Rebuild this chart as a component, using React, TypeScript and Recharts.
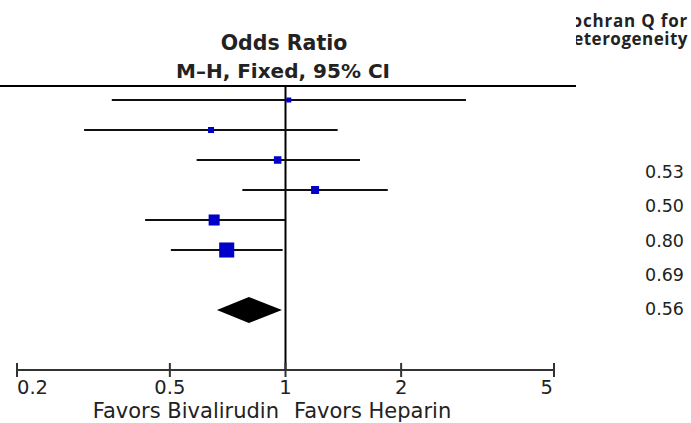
import {
  ComposedChart,
  Scatter,
  ErrorBar,
  Area,
  XAxis,
  YAxis,
  ReferenceLine,
} from "recharts";

// study rows (top to bottom)
const rows = [1, 2, 3, 4, 5, 6];
const oddsRatios = [1.02, 0.64, 0.954, 1.194, 0.652, 0.703];
const lowerCI = [0.353, 0.299, 0.587, 0.772, 0.431, 0.503];
const upperCI = [2.95, 1.367, 1.563, 1.846, 0.997, 0.983];
const weights = [4.7, 6.8, 10.6, 12.1, 23.0, 42.8];

// pooled estimate
const pooledRow = 8;
const pooledOR = 0.803;
const pooledLow = 0.663;
const pooledHigh = 0.979;

const xTicks = [0.2, 0.5, 1, 2, 5];
const heterogeneityP = ["0.53", "0.50", "0.80", "0.69", "0.56"];

const studyData = rows.map((row, i) => ({
  row,
  or: oddsRatios[i],
  ci: [oddsRatios[i] - lowerCI[i], upperCI[i] - oddsRatios[i]],
  weight: weights[i],
}));

const diamondTop = [
  { or: pooledLow, row: pooledRow },
  { or: pooledOR, row: pooledRow - 0.43 },
  { or: pooledHigh, row: pooledRow },
];
const diamondBottom = [
  { or: pooledLow, row: pooledRow },
  { or: pooledOR, row: pooledRow + 0.43 },
  { or: pooledHigh, row: pooledRow },
];

const FONT = "'DejaVu Sans', Verdana, sans-serif";

function Square(props: any) {
  const { cx, cy, payload } = props;
  const s = Math.sqrt(payload.weight) * 2.3;
  return <rect x={cx - s / 2} y={cy - s / 2} width={s} height={s} fill="#0000c8" />;
}

function Tick(props: any) {
  const { x, y, payload, index } = props;
  const last = index === xTicks.length - 1;
  const anchor = index === 0 ? "start" : last ? "end" : "middle";
  const tx = last ? x - 1 : x;
  return (
    <g>
      <line x1={x} x2={x} y1={y - 7} y2={y + 7} stroke="#333" strokeWidth={2} />
      <text x={tx} y={y + 24} textAnchor={anchor} fontSize={19.5} fontFamily={FONT} fill="#222">
        {payload.value}
      </text>
    </g>
  );
}

export default function App() {
  return (
    <div style={{ position: "absolute", left: 0, top: 0, width: 691, height: 423, background: "#fff" }}>
      <ComposedChart
        width={691}
        height={423}
        margin={{ top: 70, right: 137, bottom: 23, left: 17 }}
      >
        <XAxis
          dataKey="or"
          type="number"
          scale="log"
          domain={[0.2, 5]}
          ticks={xTicks}
          allowDataOverflow
          height={30}
          tickLine={false}
          tickSize={0}
          tickMargin={0}
          axisLine={{ stroke: "#333", strokeWidth: 2 }}
          tick={<Tick />}
        />
        <YAxis dataKey="row" type="number" domain={[0, 10]} reversed hide />
        <ReferenceLine
          segment={[
            { x: 1, y: 0.53 },
            { x: 1, y: 10 },
          ]}
          stroke="#000"
          strokeWidth={2}
          ifOverflow="visible"
        />
        <Area
          data={diamondTop}
          dataKey="row"
          type="linear"
          baseValue={pooledRow}
          stroke="none"
          fill="#000"
          fillOpacity={1}
          isAnimationActive={false}
        />
        <Area
          data={diamondBottom}
          dataKey="row"
          type="linear"
          baseValue={pooledRow}
          stroke="none"
          fill="#000"
          fillOpacity={1}
          isAnimationActive={false}
        />
        <Scatter data={studyData} dataKey="row" shape={<Square />} isAnimationActive={false}>
          <ErrorBar
            dataKey="ci"
            direction="x"
            width={0}
            stroke="#111"
            strokeWidth={2.2}
            isAnimationActive={false}
          />
        </Scatter>
      </ComposedChart>
      <svg
        width={691}
        height={423}
        style={{ position: "absolute", left: 0, top: 0, pointerEvents: "none" }}
      >
        <defs>
          <clipPath id="hdrClip">
            <rect x={576} y={0} width={115} height={60} />
          </clipPath>
        </defs>
        <line x1={0} x2={576} y1={86} y2={86} stroke="#000" strokeWidth={2} />
        <text x={284} y={50} textAnchor="middle" fontSize={20.5} fontWeight="bold" fontFamily={FONT} fill="#222">
          Odds Ratio
        </text>
        <text x={283} y={78} textAnchor="middle" fontSize={20} fontWeight="bold" fontFamily={FONT} fill="#222">
          M–H, Fixed, 95% CI
        </text>
        <g clipPath="url(#hdrClip)" fontFamily="'Open Sans', Arial, sans-serif" fontWeight="bold" fontSize={17} fill="#222">
          <text x={688} y={27} textAnchor="end" letterSpacing={0.8}>Cochran Q for</text>
          <text x={688} y={45} textAnchor="end" letterSpacing={0.5}>Heterogeneity</text>
        </g>
        {heterogeneityP.map((p, i) => (
          <text key={p + i} x={645} y={178 + i * 34.3} fontSize={17.5} fontFamily={FONT} fill="#222">
            {p}
          </text>
        ))}
        <text x={279} y={417.5} textAnchor="end" fontSize={21} fontFamily={FONT} fill="#222">
          Favors Bivalirudin
        </text>
        <text x={294} y={417.5} textAnchor="start" fontSize={21} fontFamily={FONT} fill="#222">
          Favors Heparin
        </text>
      </svg>
    </div>
  );
}
